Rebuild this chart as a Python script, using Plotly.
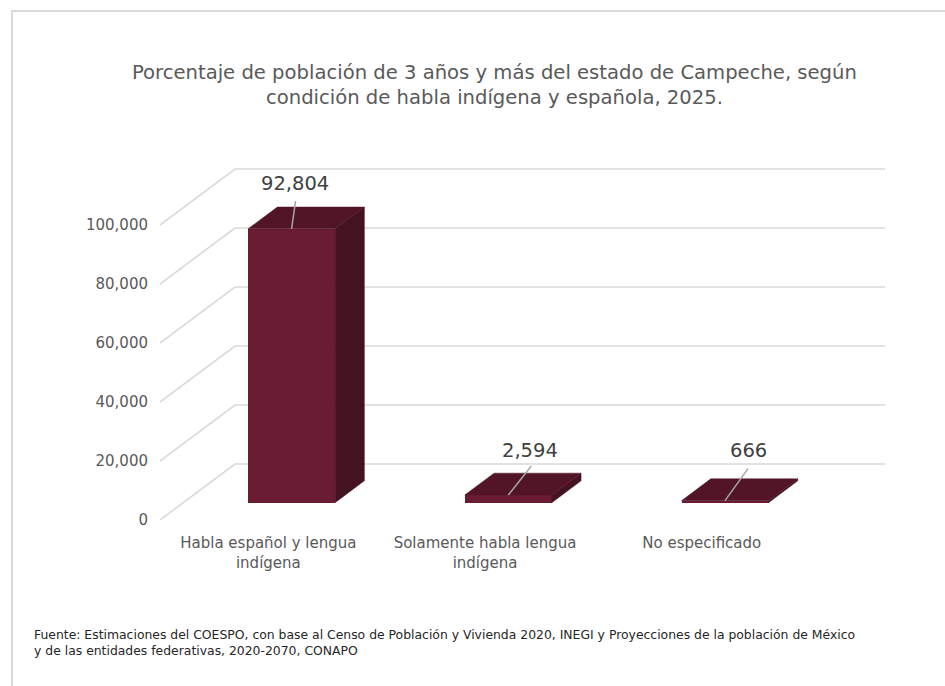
import plotly.graph_objects as go

# ---------------- data ----------------
categories = ["Habla español y lengua<br>indígena",
              "Solamente habla lengua<br>indígena",
              "No especificado"]
values = [92804, 2594, 666]
value_labels = ["92,804", "2,594", "666"]
y_ticks = [0, 20000, 40000, 60000, 80000, 100000]
y_tick_labels = ["0", "20,000", "40,000", "60,000", "80,000", "100,000"]

title_text = ("Porcentaje de población de 3 años y más del estado de Campeche, según<br>"
              "condición de habla indígena y española, 2025.")
source_text = ("Fuente: Estimaciones del COESPO, con base al Censo de Población y Vivienda 2020, "
               "INEGI y Proyecciones de la población de México<br>"
               "y de las entidades federativas, 2020-2070, CONAPO")

# ---------------- geometry / style ----------------
W, H = 945, 686
PL, PR = 160, 885          # plot area pixels (x)
PB, PLOT_H = 520, 369       # plot bottom pixel, plot height
XPX = 216.7                 # pixels per category
YPX = 0.00295               # pixels per unit value
DEPTH_DX, DEPTH_DY = 75, 56 # 3D depth offset of the back wall (px)
BAR_START, BAR_DEPTH = 0.31, 0.39
BAR_W_PX = 87

x_max = (PR - PL) / XPX
y_max = PLOT_H / YPX
dxu = DEPTH_DX / XPX
dyu = DEPTH_DY / YPX

FRONT = "#6A1C33"
TOP = "#521526"
SIDE = "#441321"
GRID = "#d9d9d9"
TXT = "#595959"
FONT = "DejaVu Sans"

fig = go.Figure()

# back wall + floor grid lines (below all traces)
for v in y_ticks:
    fig.add_shape(type="path", xref="x", yref="y", layer="below",
                  path=f"M0,{v} L{dxu},{v + dyu} L{len(categories) + dxu},{v + dyu}",
                  line=dict(color=GRID, width=1.6))

hw = BAR_W_PX / 2 / XPX
sx, sy = BAR_START * dxu, BAR_START * dyu
ddx, ddy = BAR_DEPTH * dxu, BAR_DEPTH * dyu
centers = [i + 0.5 + sx for i in range(len(categories))]

# front faces
fig.add_trace(go.Bar(
    x=centers, y=values, base=[sy] * len(values), width=2 * hw,
    marker=dict(color=FRONT, line=dict(width=0)), hoverinfo="skip", showlegend=False))

# top and side faces
for c, v in zip(centers, values):
    x0, x1 = c - hw, c + hw
    yb, yt = sy, sy + v
    fig.add_trace(go.Scatter(
        x=[x1, x1, x1 + ddx, x1 + ddx, x1], y=[yb, yt, yt + ddy, yb + ddy, yb],
        fill="toself", fillcolor=SIDE, mode="lines", line=dict(color=SIDE, width=0.5),
        hoverinfo="skip", showlegend=False))
    fig.add_trace(go.Scatter(
        x=[x0, x1, x1 + ddx, x0 + ddx, x0], y=[yt, yt, yt + ddy, yt + ddy, yt],
        fill="toself", fillcolor=TOP, mode="lines", line=dict(color=TOP, width=0.5),
        hoverinfo="skip", showlegend=False))

# data labels with leader lines (offsets in px from front-top centre)
leader_end_px = [(4, -28), (23, -29), (23, -32)]
label_pos_px = [(3, -45), (22, -44), (23, -50)]
for c, v, lab, le, lp in zip(centers, values, value_labels, leader_end_px, label_pos_px):
    yt = sy + v
    fig.add_trace(go.Scatter(
        x=[c, c + le[0] / XPX], y=[yt, yt - le[1] / YPX],
        mode="lines", line=dict(color="#a6a6a6", width=1.5),
        hoverinfo="skip", showlegend=False))
    fig.add_annotation(x=c + lp[0] / XPX, y=yt - lp[1] / YPX, text=lab,
                       showarrow=False, xanchor="center", yanchor="middle",
                       font=dict(family=FONT, size=19.5, color="#404040"))

# title
fig.add_annotation(xref="paper", yref="paper",
                   x=(494 - PL) / (PR - PL), y=(PB - 85) / PLOT_H,
                   text=title_text, showarrow=False, xanchor="center", yanchor="middle",
                   font=dict(family=FONT, size=19.6, color=TXT))
# source
fig.add_annotation(xref="paper", yref="paper",
                   x=(32 - PL) / (PR - PL), y=(PB - 642) / PLOT_H,
                   text=source_text, showarrow=False, xanchor="left", yanchor="middle",
                   align="left", font=dict(family=FONT, size=12.4, color="#262626"))

# outer border
fig.add_shape(type="rect", xref="paper", yref="paper",
              x0=(12 - PL) / (PR - PL), x1=(980 - PL) / (PR - PL),
              y0=(PB - 720) / PLOT_H, y1=(PB - 11) / PLOT_H,
              line=dict(color=GRID, width=2), fillcolor="rgba(0,0,0,0)", layer="below")

fig.update_layout(
    width=W, height=H,
    margin=dict(l=PL, r=W - PR, t=PB - PLOT_H, b=H - PB, pad=0),
    paper_bgcolor="white", plot_bgcolor="white",
    showlegend=False, bargap=0,
    xaxis=dict(range=[0, x_max], tickvals=[i + 0.5 for i in range(len(categories))],
               ticktext=categories, showgrid=False, zeroline=False, showline=False,
               ticks="", ticklabelstandoff=12, fixedrange=True,
               tickfont=dict(family=FONT, size=15, color=TXT)),
    yaxis=dict(range=[0, y_max], tickvals=y_ticks, ticktext=y_tick_labels,
               showgrid=False, zeroline=False, showline=False, ticks="",
               ticklabelstandoff=11, fixedrange=True,
               tickfont=dict(family=FONT, size=15, color=TXT)),
)

fig.write_html("out.html")
